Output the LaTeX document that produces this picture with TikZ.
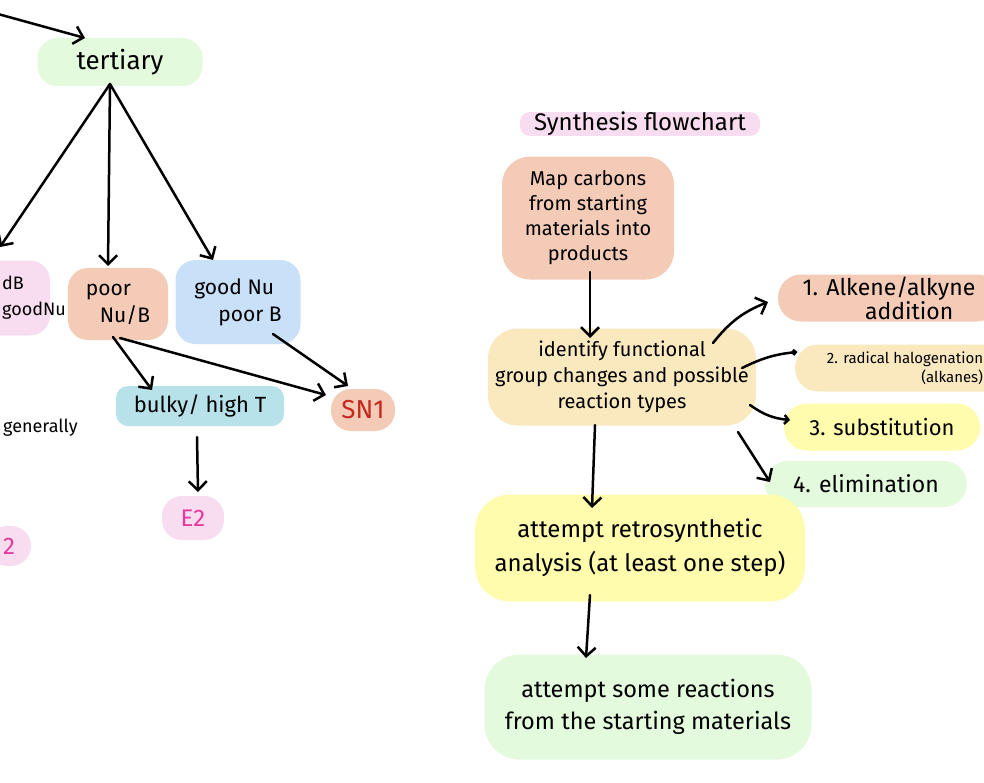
\documentclass[tikz,border=0pt]{standalone}
\usepackage{fontspec}
\setmainfont{Fira Sans}
\usepackage{xcolor}
\usetikzlibrary{
    arrows.meta,
    calc,
    positioning
}

\definecolor{mint}{HTML}{E3FADD}
\definecolor{peach}{HTML}{F4CBB7}
\definecolor{sky}{HTML}{C8E1F9}
\definecolor{aqua}{HTML}{B8E2EA}
\definecolor{blush}{HTML}{F8DCEF}
\definecolor{beige}{HTML}{FAE8BF}
\definecolor{lemon}{HTML}{FFFCAE}
\definecolor{snred}{HTML}{C4281E}
\definecolor{etwo}{HTML}{E6399C}

\newcommand{\fsz}[2]{\fontsize{#1}{#2}\selectfont}

\tikzset{
    blob/.style={rounded corners=20pt, inner sep=0pt, align=center},
    arr/.style={line width=2.5pt, line cap=round,
        -{Straight Barb[length=9pt, width=18pt, line width=2.5pt]}},
    dotarr/.style={line width=2.5pt, line cap=round, -{Circle[length=6pt]}},
    smallarr/.style={line width=2.5pt, line cap=round,
        -{Straight Barb[length=4pt, width=9pt, line width=2.5pt]}}
}

\begin{document}
\begin{tikzpicture}[x=1pt, y=-1pt]
                    \useasboundingbox (0, 0) rectangle (984, 782);
                    \clip (0, 0) rectangle (984, 782);

                    % left tree
                    \node[blob, fill=mint, minimum width=165pt, minimum height=48pt, font=\fsz{26}{30}] (tert) at (120, 62) {tertiary};
                    \node[blob, fill=blush, minimum width=100pt, minimum height=75pt] (nub) at (0, 298) {};
                    \node[anchor=west, inner sep=0pt, font=\fsz{18}{26}, align=left] (nubtext) at (2, 298) {dB\\goodNu};
                    \node[blob, fill=peach, minimum width=100pt, minimum height=72pt, font=\fsz{21}{27}, align=left] (poor) at (118, 304) {poor\\\hspace*{14pt}Nu/B};
                    \node[blob, fill=sky, minimum width=125pt, minimum height=84pt, font=\fsz{21}{27}, align=left] (good) at (238, 302) {good Nu\\\hspace*{24pt}poor B};
                    \node[blob, fill=aqua, rounded corners=12pt, minimum width=168pt, minimum height=40pt, font=\fsz{22}{24}] (bulky) at (200, 406) {bulky/ high T};
                    \node[blob, fill=peach, minimum width=64pt, minimum height=42pt, font=\fsz{26}{30}, text=snred] (sn) at (363, 410) {SN1};
                    \node[blob, fill=blush, minimum width=62pt, minimum height=44pt, font=\fsz{24}{28}, text=etwo] (e2) at (193, 518) {E2};
                    \node[blob, fill=blush, minimum width=44pt, minimum height=40pt, font=\fsz{24}{28}, text=etwo] (ecut) at (9, 546) {2};
                    \node[font=\fsz{18}{20}, anchor=west, inner sep=0pt] (gen) at (3, 428) {generally};

                    \coordinate (inlet) at (-2, 14);
                    \coordinate (fork) at ($(tert.center)+(-10, 22)$);

                    \draw
                    (inlet) edge[arr] ($(tert.center)+(-35, -24)$)
                    (fork) edge[arr] ($(nub.center)+(0, -51)$)
                    (fork) edge[arr] ($(poor.center)+(-10, -38)$)
                    (fork) edge[arr] ($(good.center)+(-25, -42)$)
                    ($(poor.center)+(-5, 33)$) edge[arr] ($(bulky.center)+(-48, -16)$)
                    ($(poor.center)+(2, 34)$) edge[arr] ($(sn.center)+(-37, -15)$)
                    ($(good.center)+(35, 32)$) edge[arr] ($(sn.center)+(-15, -24)$)
                    ($(bulky.center)+(-3, 31)$) edge[arr] ($(e2.center)+(5, -26)$);

                    % synthesis flowchart
                    \node[blob, fill=blush, rounded corners=10pt, minimum width=240pt, minimum height=20pt, font=\fsz{24}{26}] (title) at (640, 124) {Synthesis flowchart};
                    \node[blob, fill=peach, rounded corners=28pt, minimum width=172pt, minimum height=123pt, font=\fsz{20}{25}] (map) at (588, 218) {Map carbons\\from starting\\materials into\\products};
                    \node[blob, fill=beige, rounded corners=30pt, minimum width=268pt, minimum height=97pt, font=\fsz{20}{26}] (ident) at (622, 377) {identify functional\\group changes and possible\\reaction types};
                    \node[blob, fill=peach, rounded corners=23pt, minimum width=222pt, minimum height=47pt, font=\fsz{23}{21}, align=right] (alk) at (889, 298) {1. Alkene/alkyne\\addition\hspace*{22pt}};
                    \node[blob, fill=beige, rounded corners=23pt, minimum width=220pt, minimum height=47pt, font=\fsz{15}{19}, align=right] (rad) at (905, 368) {2. radical halogenation\\(alkanes)};
                    \node[blob, fill=lemon, rounded corners=23pt, minimum width=196pt, minimum height=47pt, font=\fsz{22}{24}] (subs) at (882, 427) {3. substitution};
                    \node[blob, fill=mint, rounded corners=23pt, minimum width=202pt, minimum height=46pt, font=\fsz{23}{25}] (elim) at (866, 484) {4. elimination};
                    \node[blob, fill=lemon, rounded corners=35pt, minimum width=330pt, minimum height=107pt, font=\fsz{24}{34}] (retro) at (640, 548) {attempt retrosynthetic\\analysis (at least one step)};
                    \node[blob, fill=mint, rounded corners=35pt, minimum width=327pt, minimum height=105pt, font=\fsz{23.5}{32}] (final) at (648, 707) {attempt some reactions\\from the starting materials};

                    \draw
                    ($(map.center)+(2, 54)$) edge[arr] ($(ident.center)+(-32, -39)$)
                    ($(ident.center)+(91, -34)$) edge[arr, bend left=15] ($(alk.center)+(-121, 4)$)
                    ($(ident.center)+(120, -9)$) edge[dotarr, bend left=10] ($(rad.center)+(-108, -16)$)
                    ($(ident.center)+(128, 28)$) edge[smallarr, bend right=15] ($(subs.center)+(-92, -7)$)
                    ($(ident.center)+(116, 55)$) edge[arr] ($(elim.center)+(-96, -2)$)
                    ($(ident.center)+(-27, 48)$) edge[arr] ($(retro.center)+(-48, -40)$)
                    ($(retro.center)+(-50, 47)$) edge[arr] ($(final.center)+(-62, -49)$);
                \end{tikzpicture}
\end{document}
